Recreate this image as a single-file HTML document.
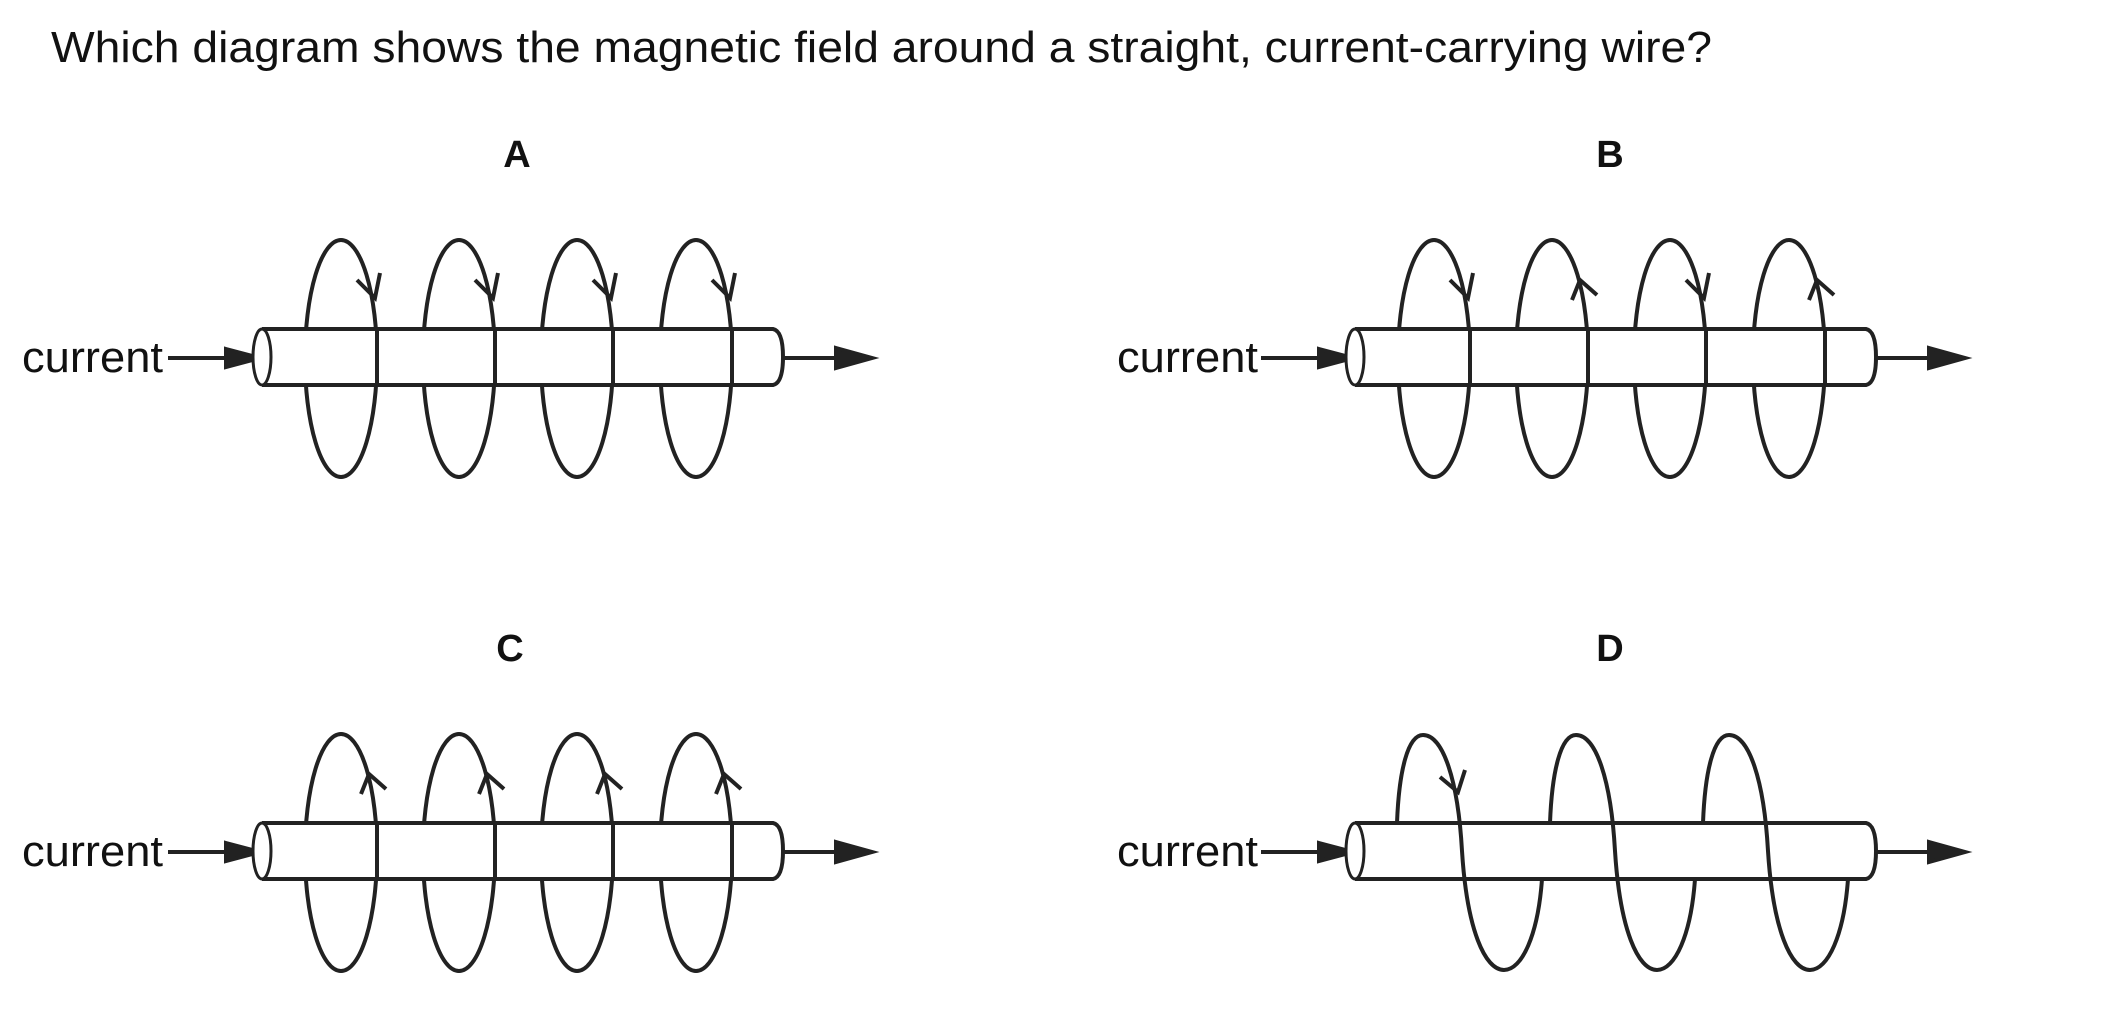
<!DOCTYPE html>
<html><head><meta charset="utf-8"><style>
html,body{margin:0;padding:0;background:#fff;}
svg{display:block;}
text{font-family:"Liberation Sans",Arial,sans-serif;fill:#111;}
</style></head><body>
<svg width="2101" height="1021" viewBox="0 0 2101 1021" xmlns="http://www.w3.org/2000/svg">
<defs>
  <g id="wire">
    <line x1="168" y1="358" x2="230" y2="358" stroke="#222" stroke-width="4"/>
    <polygon points="226,349 260,358 226,367" fill="#222"/>
    <line x1="782" y1="358" x2="840" y2="358" stroke="#222" stroke-width="4"/>
    <polygon points="836,348 872,358 836,368" fill="#222"/>
  </g>
  <g id="tube">
    <path d="M262,329 L773,329 Q783,331 783,357 Q783,383 773,385 L262,385" fill="#fff" stroke="#222" stroke-width="4"/>
    <ellipse cx="262" cy="357" rx="9" ry="28" fill="#fff" stroke="#222" stroke-width="3"/>
  </g>
  <clipPath id="front"><rect x="0" y="327" width="2101" height="60"/></clipPath>
</defs>

<text x="51" y="62" font-size="44" textLength="1661" lengthAdjust="spacingAndGlyphs">Which diagram shows the magnetic field around a straight, current-carrying wire?</text>

<text x="517" y="167" font-size="38" font-weight="bold" text-anchor="middle">A</text>
<text x="1610" y="167" font-size="38" font-weight="bold" text-anchor="middle">B</text>
<text x="510" y="661" font-size="38" font-weight="bold" text-anchor="middle">C</text>
<text x="1610" y="661" font-size="38" font-weight="bold" text-anchor="middle">D</text>

<g fill="none" stroke="#222" stroke-width="4">
<g>
  <text x="22" y="372" font-size="44" textLength="141" lengthAdjust="spacingAndGlyphs" stroke="none">current</text>
  <use href="#wire"/>
  <ellipse cx="341" cy="358.5" rx="36" ry="118.5"/>
  <ellipse cx="459" cy="358.5" rx="36" ry="118.5"/>
  <ellipse cx="577" cy="358.5" rx="36" ry="118.5"/>
  <ellipse cx="696" cy="358.5" rx="36" ry="118.5"/>
  <use href="#tube"/>
  <g clip-path="url(#front)">
    <line x1="377" y1="320" x2="377" y2="395"/><line x1="495" y1="320" x2="495" y2="395"/>
    <line x1="613" y1="320" x2="613" y2="395"/><line x1="732" y1="320" x2="732" y2="395"/>
  </g>
  <polyline points="357,280 375,298 380,273"/>
  <polyline points="475,280 493,298 498,273"/>
  <polyline points="593,280 611,298 616,273"/>
  <polyline points="712,280 730,298 735,273"/>
</g>

<g transform="translate(1093,0)">
  <text x="24" y="372" font-size="44" textLength="141" lengthAdjust="spacingAndGlyphs" stroke="none">current</text>
  <use href="#wire"/>
  <ellipse cx="341" cy="358.5" rx="36" ry="118.5"/>
  <ellipse cx="459" cy="358.5" rx="36" ry="118.5"/>
  <ellipse cx="577" cy="358.5" rx="36" ry="118.5"/>
  <ellipse cx="696" cy="358.5" rx="36" ry="118.5"/>
  <use href="#tube"/>
  <g clip-path="url(#front)">
    <line x1="377" y1="320" x2="377" y2="395"/><line x1="495" y1="320" x2="495" y2="395"/>
    <line x1="613" y1="320" x2="613" y2="395"/><line x1="732" y1="320" x2="732" y2="395"/>
  </g>
  <polyline points="357,280 375,298 380,273"/>
  <polyline points="479,300 487,280 504,295"/>
  <polyline points="593,280 611,298 616,273"/>
  <polyline points="716,300 724,280 741,295"/>
</g>

<g transform="translate(0,494)">
  <text x="22" y="372" font-size="44" textLength="141" lengthAdjust="spacingAndGlyphs" stroke="none">current</text>
  <use href="#wire"/>
  <ellipse cx="341" cy="358.5" rx="36" ry="118.5"/>
  <ellipse cx="459" cy="358.5" rx="36" ry="118.5"/>
  <ellipse cx="577" cy="358.5" rx="36" ry="118.5"/>
  <ellipse cx="696" cy="358.5" rx="36" ry="118.5"/>
  <use href="#tube"/>
  <g clip-path="url(#front)">
    <line x1="377" y1="320" x2="377" y2="395"/><line x1="495" y1="320" x2="495" y2="395"/>
    <line x1="613" y1="320" x2="613" y2="395"/><line x1="732" y1="320" x2="732" y2="395"/>
  </g>
  <polyline points="361,300 369,280 386,295"/>
  <polyline points="479,300 487,280 504,295"/>
  <polyline points="597,300 605,280 622,295"/>
  <polyline points="716,300 724,280 741,295"/>
</g>

<g transform="translate(1093,494)">
  <text x="24" y="372" font-size="44" textLength="141" lengthAdjust="spacingAndGlyphs" stroke="none">current</text>
  <use href="#wire"/>
  <use href="#tube"/>
</g>
<g>
  <path d="M1397,823 C1399,770 1408,735 1423,735 C1443,735 1458,780 1462,851 C1467,930 1485,970 1504,970 C1522,970 1538,935 1542,879"/>
  <path d="M1550,823 C1552,770 1561,735 1576,735 C1596,735 1611,780 1615,851 C1620,930 1638,970 1657,970 C1675,970 1691,935 1695,879"/>
  <path d="M1703,823 C1705,770 1714,735 1729,735 C1749,735 1764,780 1768,851 C1773,930 1791,970 1810,970 C1828,970 1844,935 1848,879"/>
  <polyline points="1440,777 1458,792 1465,770"/>
</g>
</g>
</svg>
</body></html>
